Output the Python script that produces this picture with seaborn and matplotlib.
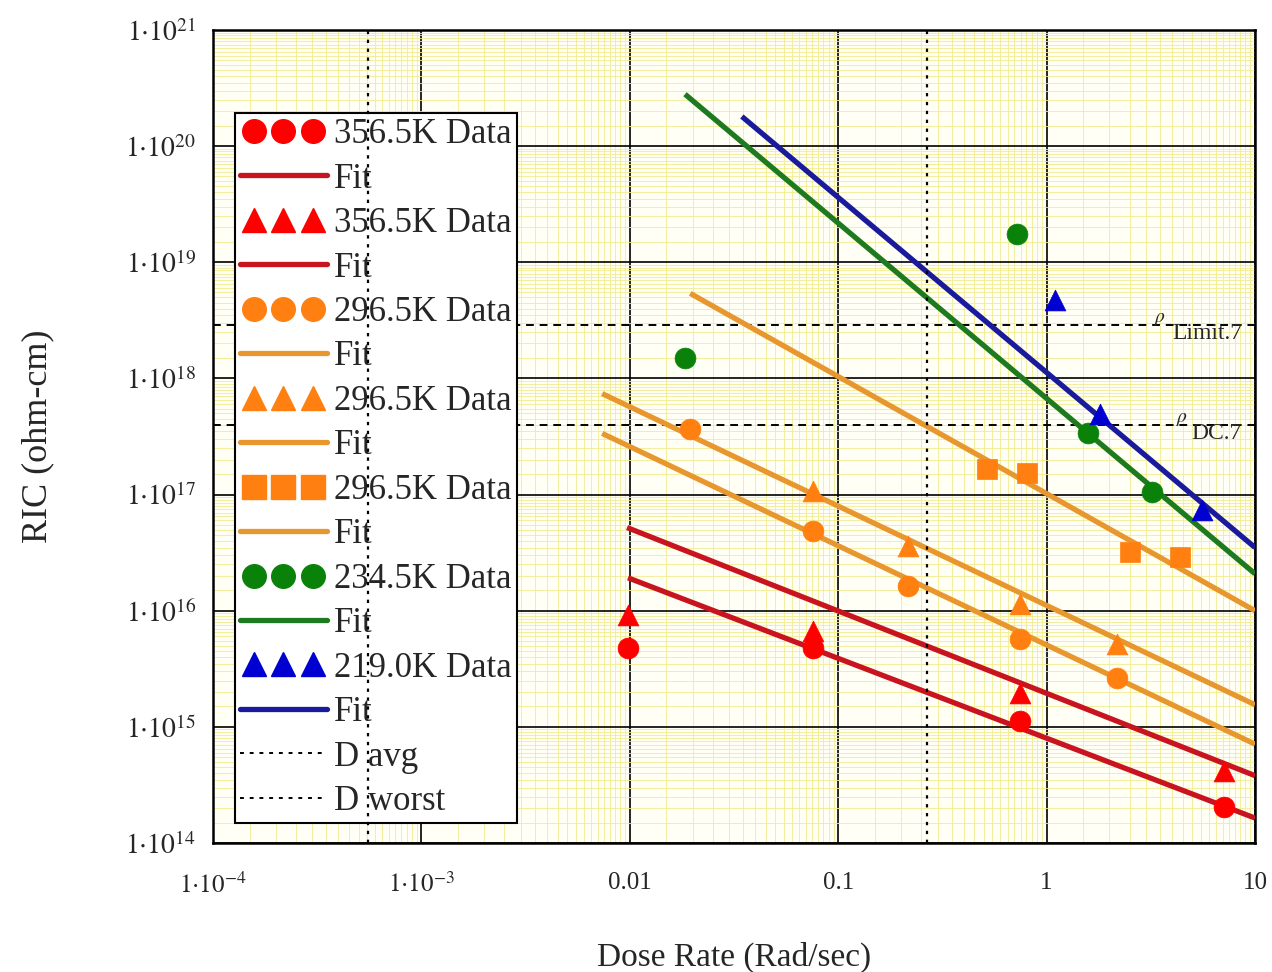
import numpy as np
import pandas as pd
import matplotlib
matplotlib.use("Agg")
import matplotlib.pyplot as plt
import seaborn as sns
from matplotlib.lines import Line2D
from matplotlib.legend_handler import HandlerLine2D
from matplotlib.ticker import FixedLocator, FixedFormatter, LogLocator, NullFormatter

# ---------------- data ----------------
red_circ_x = [0.0098, 0.0757, 0.745, 7.1]
red_circ_y = [4.8e15, 4.8e15, 1.13e15, 2.04e14]
red_tri_x = [0.0098, 0.0757, 0.745, 7.1]
red_tri_y = [9.1e15, 6.7e15, 1.96e15, 4.2e14]
org_circ_x = [0.0195, 0.0757, 0.216, 0.745, 2.18]
org_circ_y = [3.7e17, 4.9e16, 1.64e16, 5.7e15, 2.64e15]
org_tri_x = [0.0757, 0.216, 0.745, 2.18]
org_tri_y = [1.08e17, 3.63e16, 1.15e16, 5.2e15]
org_sq_x = [0.518, 0.805, 2.51, 4.37]
org_sq_y = [1.67e17, 1.52e17, 3.2e16, 2.9e16]
grn_circ_x = [0.0184, 0.72, 1.58, 3.2]
grn_circ_y = [1.49e18, 1.74e19, 3.4e17, 1.06e17]
blu_tri_x = [1.10, 1.80, 5.57]
blu_tri_y = [4.7e18, 4.9e17, 7.4e16]

# fit lines (start / end points)
fit_red_circ_x = [0.0098, 10]
fit_red_circ_y = [1.92e16, 1.64e14]
fit_red_tri_x = [0.0097, 10]
fit_red_tri_y = [5.2e16, 3.8e14]
fit_org_circ_x = [0.00737, 10]
fit_org_circ_y = [3.36e17, 7.1e14]
fit_org_tri_x = [0.00737, 10]
fit_org_tri_y = [7.4e17, 1.55e15]
fit_org_sq_x = [0.0195, 10]
fit_org_sq_y = [5.4e18, 1.0e16]
fit_grn_x = [0.0184, 10]
fit_grn_y = [2.8e20, 2.08e16]
fit_blu_x = [0.0345, 10]
fit_blu_y = [1.8e20, 3.5e16]

d_avg = 5.55e-4
d_worst = 0.267
rho_limit = 2.86e18
rho_dc = 3.94e17

x_ticks = [1e-4, 1e-3, 1e-2, 1e-1, 1, 10]
x_ticklabels = [r"$1{\cdot}10^{-4}$", r"$1{\cdot}10^{-3}$", "0.01", "0.1", "1", "10"]
y_ticks = [10.0 ** e for e in range(14, 22)]
y_ticklabels = [r"$1{\cdot}10^{%d}$" % e for e in range(14, 22)]

legend_labels = ["356.5K Data", "Fit", "356.5K Data", "Fit", "296.5K Data", "Fit",
                 "296.5K Data", "Fit", "296.5K Data", "Fit", "234.5K Data", "Fit",
                 "219.0K Data", "Fit", "D avg", "D worst"]

# ---------------- style ----------------
sns.set_style("white")
plt.rcParams["font.family"] = ["Liberation Serif", "DejaVu Serif"]
plt.rcParams["mathtext.fontset"] = "stix"

C_RED_M, C_RED_L = "#ff0000", "#c8141e"
C_ORG_M, C_ORG_L = "#ff8010", "#e8962e"
C_GRN_M, C_GRN_L = "#0a820a", "#1e7a1e"
C_BLU_M, C_BLU_L = "#0000d0", "#1a1a9c"

fig = plt.figure(figsize=(12.72, 9.72), dpi=100)
ax = fig.add_axes([213 / 1272, 1 - 843 / 972, (1255 - 213) / 1272, (843 - 30) / 972])
ax.set_facecolor("#fffff6")

MS = 15
LW = 3.8

def line(x, y, c):
    sns.lineplot(x=x, y=y, color=c, lw=LW, ax=ax, zorder=3, legend=False,
                 solid_capstyle="butt")

def pts(x, y, c, m, s):
    sns.scatterplot(x=x, y=y, color=c, marker=m, s=s, ax=ax, zorder=4,
                    edgecolor=c, linewidth=0.5, legend=False)

line(fit_red_circ_x, fit_red_circ_y, C_RED_L)
line(fit_red_tri_x, fit_red_tri_y, C_RED_L)
line(fit_org_circ_x, fit_org_circ_y, C_ORG_L)
line(fit_org_tri_x, fit_org_tri_y, C_ORG_L)
line(fit_org_sq_x, fit_org_sq_y, C_ORG_L)
line(fit_grn_x, fit_grn_y, C_GRN_L)
line(fit_blu_x, fit_blu_y, C_BLU_L)

pts(red_circ_x, red_circ_y, C_RED_M, "o", MS ** 2)
pts(red_tri_x, red_tri_y, C_RED_M, "^", MS ** 2)
pts(org_circ_x, org_circ_y, C_ORG_M, "o", MS ** 2)
pts(org_tri_x, org_tri_y, C_ORG_M, "^", MS ** 2)
pts(org_sq_x, org_sq_y, C_ORG_M, "s", MS ** 2)
pts(grn_circ_x, grn_circ_y, C_GRN_M, "o", MS ** 2)
pts(blu_tri_x, blu_tri_y, C_BLU_M, "^", MS ** 2)

ax.set_xscale("log")
ax.set_yscale("log")
ax.set_xlim(1e-4, 10)
ax.set_ylim(1e14, 1e21)

# reference lines
ax.axvline(d_avg, color="black", lw=1.6, ls=(0, (1.5, 2.5)), zorder=6)
ax.axvline(d_worst, color="black", lw=1.6, ls=(0, (1.5, 2.5)), zorder=6)
ax.axhline(rho_limit, color="black", lw=1.4, ls=(0, (4, 3)), zorder=2)
ax.axhline(rho_dc, color="black", lw=1.4, ls=(0, (4, 3)), zorder=2)

ax.annotate("Limit.7", xy=(8.67, rho_limit), xytext=(0, -6), textcoords="offset points",
            ha="right", va="center", fontsize=17, zorder=7)
ax.annotate(r"$\rho$", xy=(3.91, rho_limit), xytext=(-3, 4), textcoords="offset points",
            ha="right", va="center", fontsize=14, zorder=7)
ax.annotate("DC.7", xy=(8.67, rho_dc), xytext=(0, -6), textcoords="offset points",
            ha="right", va="center", fontsize=17, zorder=7)
ax.annotate(r"$\rho$", xy=(5.15, rho_dc), xytext=(-5, 4), textcoords="offset points",
            ha="right", va="center", fontsize=14, zorder=7)

# ticks & grid
ax.xaxis.set_major_locator(FixedLocator(x_ticks))
ax.xaxis.set_major_formatter(FixedFormatter(x_ticklabels))
ax.yaxis.set_major_locator(FixedLocator(y_ticks))
ax.yaxis.set_major_formatter(FixedFormatter(y_ticklabels))
subs = np.arange(1.5, 10.0, 0.5)
ax.xaxis.set_minor_locator(LogLocator(base=10, subs=subs, numticks=100))
ax.yaxis.set_minor_locator(LogLocator(base=10, subs=subs, numticks=100))
ax.xaxis.set_minor_formatter(NullFormatter())
ax.yaxis.set_minor_formatter(NullFormatter())
ax.grid(which="minor", color="#f2ec90", lw=0.6, zorder=0)
ax.grid(which="major", color="black", lw=1.2, zorder=1)
ax.set_axisbelow(True)
ax.tick_params(which="both", length=0)
ax.tick_params(axis="x", labelsize=18, pad=21)
ax.tick_params(axis="y", labelsize=20, pad=12)
for sp in ax.spines.values():
    sp.set_color("black")
    sp.set_linewidth(1.8)

ax.set_xlabel("Dose Rate (Rad/sec)", fontsize=24, labelpad=32)
ax.set_ylabel("RIC (ohm-cm)", fontsize=26, labelpad=51)

# legend
def mk(c, m):
    return Line2D([], [], color=c, marker=m, ls="none", markersize=17, markeredgecolor=c)

def ln(c):
    return Line2D([], [], color=c, lw=LW)

handles = [mk(C_RED_M, "o"), ln(C_RED_L), mk(C_RED_M, "^"), ln(C_RED_L),
           mk(C_ORG_M, "o"), ln(C_ORG_L), mk(C_ORG_M, "^"), ln(C_ORG_L),
           mk(C_ORG_M, "s"), ln(C_ORG_L), mk(C_GRN_M, "o"), ln(C_GRN_L),
           mk(C_BLU_M, "^"), ln(C_BLU_L),
           Line2D([], [], color="black", lw=1.4, ls=(0, (2, 3))),
           Line2D([], [], color="black", lw=1.4, ls=(0, (2, 3)))]
hmap = {}
for h in handles:
    if h.get_marker() in ("None", None, "", " "):
        hmap[h] = HandlerLine2D(marker_pad=0.0)
    else:
        hmap[h] = HandlerLine2D(marker_pad=0.4)
leg = ax.legend(handles, legend_labels, loc="upper left", bbox_to_anchor=(0.021, 0.898),
                borderaxespad=0, fontsize=25, numpoints=3, handlelength=2.5,
                handletextpad=0.2, labelspacing=0.33, borderpad=0.15, fancybox=False,
                framealpha=1, edgecolor="black", facecolor="white", handler_map=hmap)
leg.get_frame().set_linewidth(1.5)
leg.set_zorder(5)

fig.savefig("out.png", dpi=100)
